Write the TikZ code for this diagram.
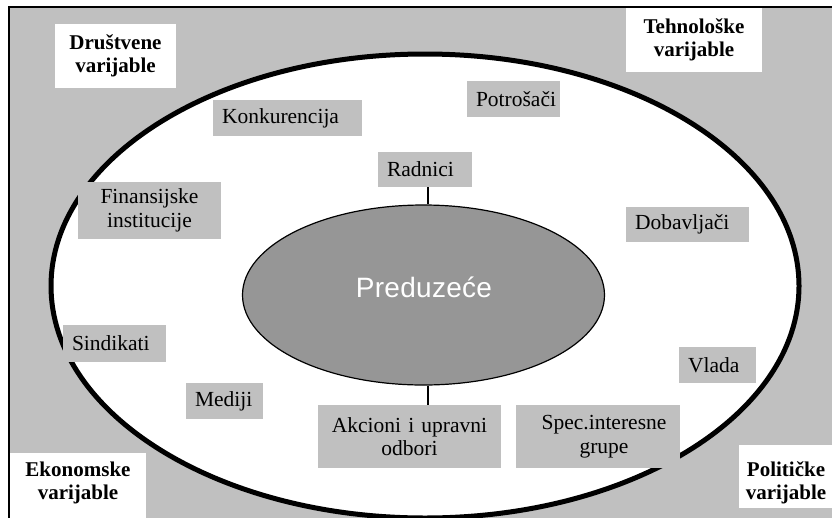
\documentclass[tikz,border=0pt]{standalone}
\usepackage{fontspec}
\setmainfont{Liberation Serif}
\newfontfamily\predfont[LetterSpace=1]{Liberation Sans}
\usetikzlibrary{shapes.geometric}
\definecolor{bggray}{RGB}{192,192,192}
\definecolor{coregray}{RGB}{150,150,150}
\tikzset{
  graybox/.style={fill=bggray, draw=none, inner ysep=0pt, font=\fontsize{21.5}{23.4}\selectfont},
  lbox/.style={graybox, align=left, inner xsep=9pt},
  cbox/.style={graybox, align=center, inner xsep=0pt},
  wbox/.style={fill=white, draw=none, inner sep=0pt, align=center, font=\bfseries\fontsize{21}{22.4}\selectfont},
  btxt/.style={inner sep=0pt, align=center, font=\bfseries\fontsize{21}{22.4}\selectfont},
  link/.style={draw=black, line width=1.3pt}
}
\begin{document}
\begin{tikzpicture}[x=1pt,y=-1pt]
\useasboundingbox (0,0) rectangle (832,517);
\fill[white] (0,0) rectangle (832,517);
\begin{scope}
\clip (0,0) rectangle (832,517);
\draw[fill=bggray, line width=2pt] (9,7) rectangle (870,560);
% outer ellipse
\node[ellipse, fill=white, draw=black, line width=5pt, minimum width=748pt, minimum height=464pt, inner sep=0pt] (env) at (425,286) {};
% inner ellipse
\node[ellipse, fill=coregray, draw=black, line width=1.2pt, minimum width=362pt, minimum height=180pt, inner sep=0pt] (ent) at (423.5,295) {};
\node[anchor=base, inner sep=0pt, text=white, font=\predfont\fontsize{28}{32}\selectfont] (enttxt) at (424,297) {Preduzeće};
% stakeholder boxes
\node[lbox, minimum width=149pt, minimum height=36pt, text width=131pt] (konk) at (287.5,118) {Konkurencija};
\node[lbox, minimum width=93pt, minimum height=36pt, text width=75pt] (potr) at (513.5,99) {Potrošači};
\node[lbox, minimum width=94pt, minimum height=35pt, text width=76pt] (rad) at (425,169.5) {Radnici};
\node[cbox, minimum width=143pt, minimum height=57pt, text width=143pt] (fin) at (149.5,210.5) {Finansijske\\institucije};
\node[lbox, minimum width=123pt, minimum height=35pt, text width=105pt] (dob) at (687.5,224.5) {Dobavljači};
\node[lbox, minimum width=103pt, minimum height=37pt, text width=85pt] (sind) at (114.5,343.5) {Sindikati};
\node[lbox, minimum width=77pt, minimum height=36pt, text width=59pt] (med) at (224.5,401) {Mediji};
\node[cbox, minimum width=183pt, minimum height=63pt, text width=183pt] (ak) at (409.5,436.5) {Akcioni i upravni\\odbori};
\node[cbox, minimum width=164pt, minimum height=63pt, text width=164pt] (spec) at (598,436.5) {\hspace*{12pt}Spec.interesne\\\hspace*{12pt}grupe};
\node[lbox, minimum width=77pt, minimum height=36pt, text width=59pt] (vlada) at (717.5,365) {Vlada};
% connectors
\draw[link] ([xshift=3pt]rad.south) -- ([xshift=3pt]rad.south |- ent.north);
\draw[link] ([xshift=4.5pt]ent.south) -- ([xshift=4.5pt]ent.south |- ak.north);
% variable boxes
\node[wbox, minimum width=121pt, minimum height=64pt] (drus) at (115.5,56) {Društvene\\varijable};
\node[wbox, minimum width=136pt, minimum height=64pt] (teh) at (694,40) {Tehnološke\\varijable};
\node[wbox, minimum width=136pt, minimum height=70pt] (eko) at (78,488) {};
\node[btxt] (ekotxt) at (78,483) {Ekonomske\\varijable};
\node[wbox, minimum width=110pt, minimum height=63pt] (pol) at (794,476.5) {};
\node[btxt] (poltxt) at (786,483) {Političke\\varijable};
\end{scope}
\end{tikzpicture}
\end{document}
